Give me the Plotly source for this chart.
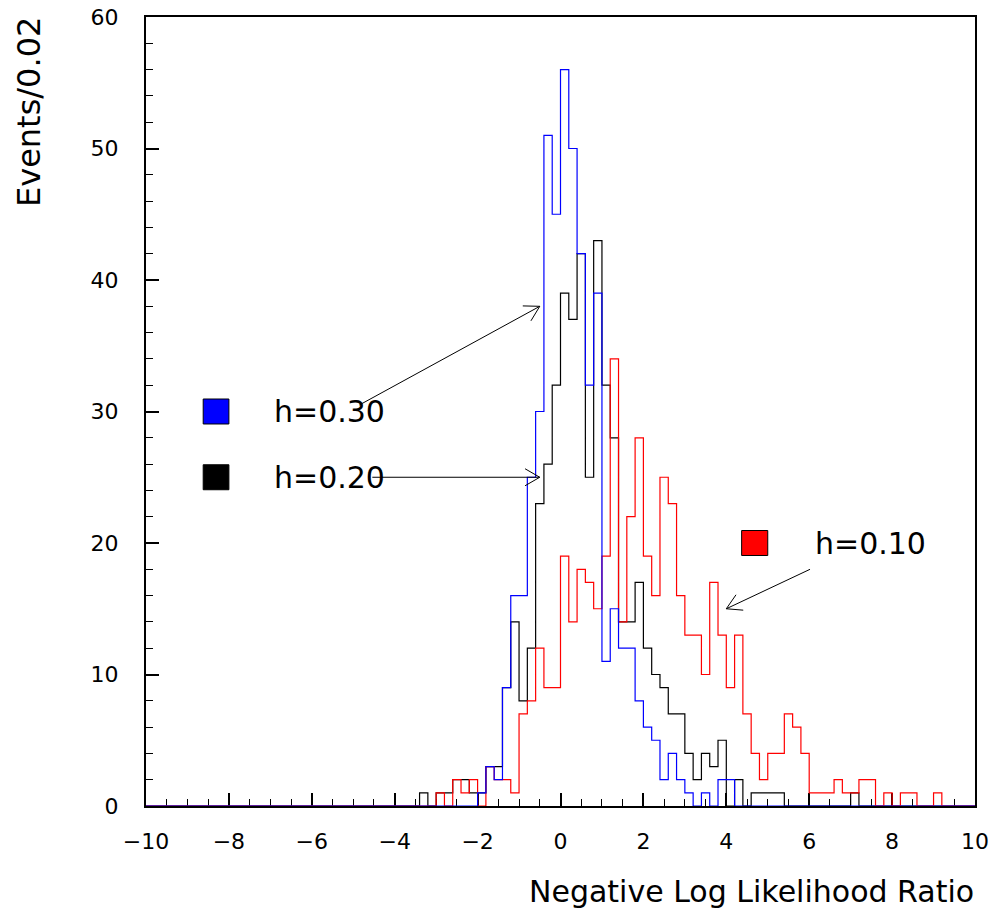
import math
import plotly.graph_objects as go

# ---------------- data ----------------
X_MIN, X_MAX, BIN_W = -10.0, 10.0, 0.2

blue_start = -2.0   # h=0.30
blue_counts = [1, 3, 2, 9, 16, 16, 25, 30, 51, 45, 56, 50, 42, 32, 39, 11, 15, 12, 12, 8,
               6, 5, 2, 4, 2, 1, 0, 1, 0, 2, 2]

black_start = -3.4  # h=0.20
black_counts = [1, 0, 1, 1, 2, 2, 1, 1, 3, 3, 9, 14, 8, 12, 23, 26, 32, 39, 37, 42,
                25, 43, 32, 28, 14, 14, 17, 12, 10, 9, 7, 7, 4, 2, 4, 3, 5, 0, 2, 0,
                1, 1, 1, 1, 0, 0, 0, 0, 0, 0, 0, 0, 1]

red_start = -3.0    # h=0.10
red_counts = [1, 0, 2, 1, 2, 0, 3, 2, 2, 1, 7, 8, 12, 9, 9, 19, 14, 18, 17, 15,
              19, 34, 14, 22, 28, 19, 16, 25, 23, 16, 13, 13, 10, 17, 13, 9, 13, 7, 4, 2,
              4, 4, 7, 6, 4, 1, 1, 1, 2, 1, 1, 2, 2, 0, 1, 0, 1, 1, 0, 0, 1]

x_tick_vals = [-10, -8, -6, -4, -2, 0, 2, 4, 6, 8, 10]
y_tick_vals = [0, 10, 20, 30, 40, 50, 60]

labels = ["h=0.30", "h=0.20", "h=0.10"]
colors = ["#0000ff", "#000000", "#ff0000"]

# ---------------- helpers ----------------
n_bins = int(round((X_MAX - X_MIN) / BIN_W))
edges = [round(X_MIN + i * BIN_W, 4) for i in range(n_bins + 1)]


def full_hist(start, counts):
    vals = [0] * n_bins
    i0 = int(round((start - X_MIN) / BIN_W))
    for j, c in enumerate(counts):
        vals[i0 + j] = c
    return vals + [vals[-1]]


fig = go.Figure()
for start, counts, col, lab in [(black_start, black_counts, colors[1], labels[1]),
                                (red_start, red_counts, colors[2], labels[2]),
                                (blue_start, blue_counts, colors[0], labels[0])]:
    fig.add_trace(go.Scatter(x=edges, y=full_hist(start, counts), mode="lines",
                             line=dict(shape="hv", color=col, width=1.2),
                             name=lab, showlegend=False, hoverinfo="skip"))

W, H = 995, 911
ML, MR, MT, MB = 146, 20, 17, 105
SX = (W - ML - MR) / (X_MAX - X_MIN)
SY = (H - MT - MB) / 60.0

FONT = "DejaVu Sans"

shapes = []
annotations = []

# legend boxes + texts
legend_items = [
    # (box x0, x1, y0, y1, text x, text y, color, label)
    (-8.62, -8.0, 29.05, 30.95, -6.95, 30.0, colors[0], labels[0]),
    (-8.62, -8.0, 24.05, 25.95, -6.95, 25.0, colors[1], labels[1]),
    (4.37, 5.0, 19.05, 20.95, 6.08, 20.0, colors[2], labels[2]),
]
for bx0, bx1, by0, by1, tx, ty, col, lab in legend_items:
    shapes.append(dict(type="rect", xref="x", yref="y", x0=bx0, x1=bx1, y0=by0, y1=by1,
                       fillcolor=col, line=dict(color="#000000", width=1)))
    annotations.append(dict(x=tx, y=ty, xref="x", yref="y", text=lab, showarrow=False,
                            xanchor="left", yanchor="middle",
                            font=dict(family=FONT, size=30, color="#000000")))

# arrows with open V heads
arrows = [(-4.85, 30.5, -0.5, 38.0), (-4.54, 25.0, -0.5, 25.0), (6.02, 18.0, 4.0, 15.0)]
HEAD_L = 17.0
for x0, y0, x1, y1 in arrows:
    shapes.append(dict(type="line", xref="x", yref="y", x0=x0, y0=y0, x1=x1, y1=y1,
                       line=dict(color="#000000", width=1)))
    ang = math.atan2((y1 - y0) * SY, (x1 - x0) * SX)
    pts = []
    for d in (math.radians(30), -math.radians(30)):
        a = ang + math.pi + d
        pts.append((x1 + HEAD_L * math.cos(a) / SX, y1 + HEAD_L * math.sin(a) / SY))
    path = f"M{pts[0][0]},{pts[0][1]} L{x1},{y1} L{pts[1][0]},{pts[1][1]}"
    shapes.append(dict(type="path", xref="x", yref="y", path=path,
                       line=dict(color="#000000", width=1)))

# axis titles
annotations.append(dict(x=(29 - ML) / (W - ML - MR), y=(H - MB - 15) / (H - MT - MB),
                        xref="paper", yref="paper", text="Events/0.02", textangle=-90,
                        showarrow=False, xanchor="center", yanchor="top",
                        font=dict(family=FONT, size=32, color="#000000")))
annotations.append(dict(x=1.0, y=(H - MB - 891) / (H - MT - MB), xref="paper", yref="paper",
                        text="Negative Log Likelihood Ratio", showarrow=False,
                        xanchor="right", yanchor="middle", borderpad=0,
                        font=dict(family=FONT, size=30, color="#000000")))

fig.update_layout(
    width=W, height=H,
    margin=dict(l=ML, r=MR, t=MT, b=MB, autoexpand=False),
    paper_bgcolor="#ffffff", plot_bgcolor="#ffffff",
    shapes=shapes, annotations=annotations, showlegend=False,
    font=dict(family=FONT, size=22, color="#000000"),
)
fig.update_xaxes(range=[X_MIN, X_MAX], tickvals=x_tick_vals, ticks="inside", ticklen=13,
                 tickwidth=1.5, tickcolor="#000000", showgrid=False, zeroline=False,
                 showline=True, linecolor="#000000", linewidth=2, mirror=True,
                 layer="below traces", ticklabelstandoff=15, automargin=False,
                 tickfont=dict(family=FONT, size=22, color="#000000"),
                 minor=dict(dtick=0.5, ticks="inside", ticklen=7, tickwidth=1.2,
                            tickcolor="#000000", showgrid=False))
fig.update_yaxes(range=[0, 60], tickvals=y_tick_vals, ticks="inside", ticklen=13,
                 tickwidth=1.5, tickcolor="#000000", showgrid=False, zeroline=False,
                 showline=True, linecolor="#000000", linewidth=2, mirror=True,
                 layer="below traces", ticklabelstandoff=21, automargin=False,
                 tickfont=dict(family=FONT, size=22, color="#000000"),
                 minor=dict(dtick=2, ticks="inside", ticklen=7, tickwidth=1.2,
                            tickcolor="#000000", showgrid=False))

fig.write_html("out.html",
               config={"displayModeBar": False},
               post_script="document.body.style.margin='0px';"
                           "document.body.style.overflow='hidden';")
